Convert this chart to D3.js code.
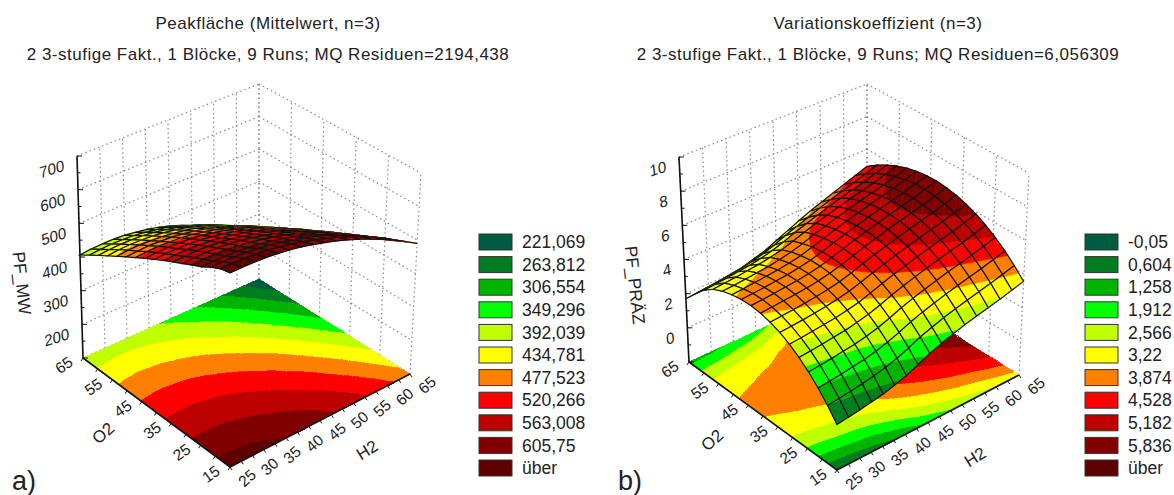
<!DOCTYPE html>
<html>
<head>
<meta charset="utf-8">
<script src="https://cdnjs.cloudflare.com/ajax/libs/d3/7.8.5/d3.min.js"></script>
<style>
  html, body { margin: 0; background: #fff; }
  svg { display: block; font-family: "Liberation Sans", Arial, sans-serif; fill: #222; }
</style>
</head>
<body>
<svg width="1174" height="495"></svg>
<script>
// grid positions of the fitted surface
const gridH2 = [25, 27.5, 30, 32.5, 35, 37.5, 40, 42.5, 45, 47.5, 50, 52.5, 55, 57.5, 60, 62.5, 65];
const gridO2 = [15, 18.125, 21.25, 24.375, 27.5, 30.625, 33.75, 36.875, 40, 43.125, 46.25, 49.375, 52.5, 55.625, 58.75, 61.875, 65];

const h2Ticks = [25, 30, 35, 40, 45, 50, 55, 60, 65];
const o2Ticks = [15, 25, 35, 45, 55, 65];
const peakTicks = [100, 200, 300, 400, 500, 600, 700];
const peakTickLabels = ["", "200", "300", "400", "500", "600", "700"];
const vkTicks = [-2, 0, 2, 4, 6, 8, 10];
const vkTickLabels = ["", "0", "2", "4", "6", "8", "10"];

const bandColors = ["#005c40", "#007d20", "#00b400", "#00ff00", "#bfff00", "#ffff00", "#ff8000", "#ff0000", "#bd0000", "#800000", "#5f0000"];

// legend values are the lower limit of each colour, "über" starts one step past the last
const peakLevels = [221.069, 263.812, 306.554, 349.296, 392.039, 434.781, 477.523, 520.266, 563.008, 605.75, 648.49];
const peakLegend = ["221,069", "263,812", "306,554", "349,296", "392,039", "434,781", "477,523", "520,266", "563,008", "605,75", "über"];
const vkLevels = [-0.05, 0.604, 1.258, 1.912, 2.566, 3.22, 3.874, 4.528, 5.182, 5.836, 6.49];
const vkLegend = ["-0,05", "0,604", "1,258", "1,912", "2,566", "3,22", "3,874", "4,528", "5,182", "5,836", "über"];

// rows run along O2 (15 -> 65), columns along H2 (25 -> 65)
const peakArea = [
  [660, 660, 659, 657, 653, 648, 641, 632, 622, 611, 598, 584, 568, 551, 532, 512, 490],
  [653, 653, 652, 649, 645, 639, 632, 623, 613, 601, 588, 573, 557, 540, 521, 499, 477],
  [639, 640, 638, 636, 632, 627, 619, 610, 601, 589, 576, 561, 544, 527, 507, 486, 463],
  [621, 622, 622, 620, 616, 611, 604, 596, 586, 574, 561, 547, 530, 513, 493, 472, 449],
  [608, 609, 609, 607, 603, 598, 591, 583, 573, 561, 548, 534, 517, 499, 479, 458, 435],
  [593, 595, 595, 593, 590, 585, 578, 569, 559, 548, 534, 520, 503, 485, 465, 443, 420],
  [579, 580, 581, 579, 576, 571, 564, 555, 545, 534, 520, 506, 488, 470, 450, 428, 405],
  [564, 565, 566, 564, 561, 556, 549, 541, 531, 519, 506, 491, 474, 455, 435, 413, 389],
  [548, 550, 550, 549, 546, 541, 534, 526, 516, 504, 491, 476, 458, 440, 419, 397, 372],
  [532, 534, 535, 533, 531, 526, 519, 511, 500, 489, 475, 460, 442, 424, 403, 380, 355],
  [515, 518, 519, 517, 515, 510, 503, 495, 485, 473, 459, 444, 426, 407, 386, 363, 338],
  [498, 500, 502, 500, 498, 493, 487, 479, 468, 456, 443, 428, 409, 390, 369, 346, 320],
  [480, 484, 485, 483, 481, 476, 470, 462, 451, 439, 426, 411, 392, 373, 351, 328, 302],
  [462, 466, 467, 466, 464, 459, 453, 445, 434, 422, 408, 393, 374, 355, 333, 309, 283],
  [444, 447, 449, 448, 446, 441, 435, 427, 416, 404, 391, 375, 356, 337, 315, 291, 265],
  [425, 428, 430, 429, 427, 422, 416, 409, 398, 385, 372, 356, 337, 317, 295, 271, 244],
  [406, 410, 411, 411, 409, 404, 398, 390, 380, 367, 353, 337, 318, 298, 276, 251, 225],
];

const varCoeff = [
  [0.55, 0.64, 0.73, 0.85, 0.97, 1.15, 1.37, 1.66, 1.99, 2.24, 2.46, 2.66, 2.84, 3.0, 3.17, 3.37, 3.56],
  [1.25, 1.32, 1.41, 1.52, 1.63, 1.79, 2.0, 2.27, 2.58, 2.82, 3.04, 3.24, 3.42, 3.59, 3.76, 3.96, 4.16],
  [1.86, 1.93, 2.01, 2.11, 2.21, 2.36, 2.56, 2.81, 3.1, 3.34, 3.55, 3.75, 3.94, 4.11, 4.28, 4.49, 4.69],
  [2.39, 2.46, 2.54, 2.63, 2.72, 2.86, 3.04, 3.28, 3.56, 3.79, 4.0, 4.2, 4.39, 4.56, 4.74, 4.95, 5.15],
  [2.85, 2.91, 2.98, 3.07, 3.15, 3.29, 3.45, 3.68, 3.94, 4.17, 4.38, 4.58, 4.77, 4.95, 5.12, 5.34, 5.54],
  [3.23, 3.28, 3.35, 3.43, 3.51, 3.64, 3.79, 4.01, 4.26, 4.49, 4.69, 4.89, 5.09, 5.27, 5.44, 5.66, 5.87],
  [3.53, 3.58, 3.64, 3.72, 3.8, 3.92, 4.07, 4.28, 4.52, 4.74, 4.95, 5.15, 5.34, 5.52, 5.7, 5.92, 6.12],
  [3.74, 3.8, 3.86, 3.93, 4.01, 4.12, 4.26, 4.47, 4.71, 4.93, 5.13, 5.33, 5.53, 5.71, 5.89, 6.1, 6.31],
  [3.89, 3.94, 4.0, 4.07, 4.14, 4.25, 4.39, 4.59, 4.82, 5.05, 5.25, 5.45, 5.65, 5.83, 6.0, 6.22, 6.43],
  [3.95, 4.0, 4.06, 4.13, 4.2, 4.31, 4.45, 4.65, 4.88, 5.1, 5.3, 5.5, 5.7, 5.88, 6.06, 6.28, 6.49],
  [3.93, 3.98, 4.04, 4.11, 4.18, 4.29, 4.43, 4.63, 4.86, 5.08, 5.28, 5.48, 5.68, 5.86, 6.04, 6.26, 6.47],
  [3.83, 3.88, 3.95, 4.02, 4.09, 4.2, 4.34, 4.55, 4.78, 5.0, 5.2, 5.4, 5.6, 5.78, 5.96, 6.18, 6.39],
  [3.66, 3.71, 3.77, 3.85, 3.92, 4.04, 4.19, 4.39, 4.63, 4.85, 5.06, 5.26, 5.45, 5.63, 5.81, 6.03, 6.24],
  [3.4, 3.46, 3.52, 3.6, 3.68, 3.8, 3.95, 4.17, 4.41, 4.64, 4.84, 5.04, 5.24, 5.42, 5.59, 5.81, 6.02],
  [2.96, 3.02, 3.09, 3.17, 3.25, 3.37, 3.53, 3.76, 4.02, 4.26, 4.48, 4.7, 4.92, 5.11, 5.29, 5.52, 5.73],
  [2.36, 2.42, 2.49, 2.58, 2.67, 2.8, 2.97, 3.2, 3.48, 3.73, 3.98, 4.24, 4.47, 4.69, 4.9, 5.14, 5.38],
  [1.7, 1.75, 1.8, 1.9, 2.0, 2.1, 2.3, 2.5, 2.8, 3.1, 3.4, 3.7, 3.95, 4.2, 4.45, 4.7, 4.96],
];

const svg = d3.select("svg");
const pathLine = d3.line();

const x = d3.scaleLinear().domain([25, 65]).range([0, 1]);
const y = d3.scaleLinear().domain([15, 65]).range([0, 1]);

function lerp(a, b, t) {
  return [a[0] + (b[0] - a[0]) * t, a[1] + (b[1] - a[1]) * t];
}

// box corners on screen: f(ront), l(eft), r(ight), b(ack), lower and upper
function makeProjection(box) {
  const plane = (f, r, l, b, u, v) => lerp(lerp(f, r, u), lerp(l, b, u), v);
  return (u, v, w) =>
    lerp(
      plane(box.f0, box.r0, box.l0, box.b0, u, v),
      plane(box.f1, box.r1, box.l1, box.b1, u, v),
      w
    );
}

// keep the part of a polygon where value is on the wanted side of limit
function clipPolygon(poly, limit, keepAbove) {
  const inside = (p) => (keepAbove ? p.val >= limit : p.val <= limit);
  const out = [];
  poly.forEach((p, i) => {
    const q = poly[(i + 1) % poly.length];
    if (inside(p)) out.push(p);
    if (inside(p) !== inside(q)) {
      const t = (limit - p.val) / (q.val - p.val);
      out.push({
        u: p.u + (q.u - p.u) * t,
        v: p.v + (q.v - p.v) * t,
        val: limit,
      });
    }
  });
  return out;
}

function bandPieces(tri, levels) {
  const pieces = [];
  for (let k = 0; k < bandColors.length; k++) {
    let poly = tri;
    if (k > 0) poly = clipPolygon(poly, levels[k], true);
    if (poly.length && k < bandColors.length - 1) poly = clipPolygon(poly, levels[k + 1], false);
    if (poly.length >= 3) pieces.push({ poly: poly, color: bandColors[k] });
  }
  return pieces;
}

function drawPanel(cfg) {
  const g = svg.append("g");
  const project = makeProjection(cfg.box);
  const z = d3.scaleLinear().domain(d3.extent(cfg.zTicks)).range([0, 1]);

  const cellTris = (i, j) => {
    const corner = (a, b) => ({ u: x(gridH2[a]), v: y(gridO2[b]), val: cfg.values[b][a] });
    const c00 = corner(i, j);
    const c10 = corner(i + 1, j);
    const c01 = corner(i, j + 1);
    const c11 = corner(i + 1, j + 1);
    return [[c00, c10, c11], [c00, c11, c01]];
  };

  // walls, dotted
  const dotted = g.append("g")
    .attr("fill", "none")
    .attr("stroke", "#8a8a8a")
    .attr("stroke-width", 1.2)
    .attr("stroke-dasharray", "1.5,3");
  const wallLine = (a, b) => dotted.append("path").attr("d", pathLine([a, b]));
  h2Ticks.forEach((t) => wallLine(project(x(t), 1, 0), project(x(t), 1, 1)));
  o2Ticks.forEach((t) => wallLine(project(1, y(t), 0), project(1, y(t), 1)));
  cfg.zTicks.forEach((t) => {
    wallLine(project(0, 1, z(t)), project(1, 1, z(t)));
    wallLine(project(1, 1, z(t)), project(1, 0, z(t)));
  });

  // contour bands on the floor
  const floor = g.append("g").attr("shape-rendering", "crispEdges");
  d3.range(gridO2.length - 1).forEach((j) => {
    d3.range(gridH2.length - 1).forEach((i) => {
      cellTris(i, j).forEach((tri) => {
        bandPieces(tri, cfg.levels).forEach((piece) => {
          floor.append("path")
            .attr("d", pathLine(piece.poly.map((p) => project(p.u, p.v, 0))) + "Z")
            .attr("fill", piece.color)
            .attr("stroke", piece.color)
            .attr("stroke-width", 0.8);
        });
      });
    });
  });

  // surface, back cells first so the front ones cover them
  const surface = g.append("g");
  const onSurface = (p) => project(p.u, p.v, z(p.val));
  d3.range(gridO2.length - 2, -1, -1).forEach((j) => {
    d3.range(gridH2.length - 2, -1, -1).forEach((i) => {
      const tris = cellTris(i, j);
      tris.forEach((tri) => {
        bandPieces(tri, cfg.levels).forEach((piece) => {
          surface.append("path")
            .attr("d", pathLine(piece.poly.map(onSurface)) + "Z")
            .attr("fill", piece.color)
            .attr("stroke", piece.color)
            .attr("stroke-width", 0.6);
        });
      });
      const quad = [tris[0][0], tris[0][1], tris[0][2], tris[1][2]];
      surface.append("path")
        .attr("d", pathLine(quad.map(onSurface)) + "Z")
        .attr("fill", "none")
        .attr("stroke", "#111")
        .attr("stroke-width", 1.2);
    });
  });

  // solid axes with ticks
  const axes = g.append("g").attr("fill", "none").attr("stroke", "#111");
  axes.append("path")
    .attr("stroke-width", 1.6)
    .attr("d", pathLine([project(0, 1, 1), project(0, 1, 0), project(0, 0, 0), project(1, 0, 0)]));
  const zStep = cfg.zTicks[1] - cfg.zTicks[0];
  cfg.zTicks.forEach((t, k) => {
    const pt = project(0, 1, z(t));
    axes.append("path").attr("d", pathLine([pt, [pt[0] + 5, pt[1]]]));
    if (k < cfg.zTicks.length - 1) {
      const mid = project(0, 1, z(t + zStep / 2));
      axes.append("path").attr("d", pathLine([mid, [mid[0] + 3, mid[1]]]));
    }
  });
  d3.range(15, 66, 5).forEach((t) => {
    const pt = project(0, y(t), 0);
    axes.append("path").attr("d", pathLine([pt, [pt[0] - 2, pt[1] + 3]]));
  });
  d3.range(25, 66, 2.5).forEach((t) => {
    const pt = project(x(t), 0, 0);
    axes.append("path").attr("d", pathLine([pt, [pt[0] + 2, pt[1] + 3]]));
  });

  // tick labels
  const labels = g.append("g").attr("font-size", 15.5);
  const label = (text, pt, dx, dy, transform, anchor) =>
    labels.append("text")
      .attr("transform", `translate(${pt[0] + dx},${pt[1] + dy}) ${transform}`)
      .attr("text-anchor", anchor || "middle")
      .attr("dy", "0.35em")
      .text(text);

  cfg.zTicks.forEach((t, k) => {
    label(cfg.zTickLabels[k], project(0, 1, z(t)), -13, 9, "rotate(-18) skewX(-12)", "end");
  });
  o2Ticks.forEach((t) => label(t, project(0, y(t), 0), -19, 7, "rotate(-35)"));
  h2Ticks.forEach((t) => label(t, project(x(t), 0, 0), 17, 11, "rotate(-42)"));

  label("O2", cfg.o2Title, 0, 0, "rotate(-42)").attr("font-size", 17);
  label("H2", cfg.h2Title, 0, 0, "rotate(-32)").attr("font-size", 17);
  label(cfg.zName, cfg.zTitle, 0, 0, "rotate(84)").attr("font-size", 17.5);
  label(cfg.panelTag, cfg.tagPos, 0, 0, "").attr("font-size", 27).attr("text-anchor", "start");

  // titles
  g.append("text")
    .attr("x", cfg.titleX)
    .attr("y", 29)
    .attr("text-anchor", "middle")
    .attr("font-size", 17)
    .attr("letter-spacing", 0.5)
    .text(cfg.title);
  g.append("text")
    .attr("x", cfg.titleX)
    .attr("y", 60)
    .attr("text-anchor", "middle")
    .attr("font-size", 17)
    .attr("letter-spacing", 0.5)
    .text(cfg.subtitle);

  // legend
  const rowY = d3.scaleBand().domain(d3.range(bandColors.length)).range([234, 234 + 22.6 * 11]);
  const legend = g.append("g").attr("transform", `translate(${cfg.legendX},0)`);
  legend.selectAll("rect")
    .data(bandColors)
    .enter()
    .append("rect")
    .attr("y", (d, i) => rowY(i))
    .attr("width", 33)
    .attr("height", 16)
    .attr("fill", (d) => d)
    .attr("stroke", "#333")
    .attr("stroke-width", 1);
  legend.selectAll("text")
    .data(cfg.legend)
    .enter()
    .append("text")
    .attr("x", 43)
    .attr("y", (d, i) => rowY(i) + 8)
    .attr("dy", "0.35em")
    .attr("font-size", 17.5)
    .text((d) => d);
}

drawPanel({
  title: "Peakfläche (Mittelwert, n=3)",
  subtitle: "2 3-stufige Fakt., 1 Blöcke, 9 Runs; MQ Residuen=2194,438",
  titleX: 268,
  values: peakArea,
  levels: peakLevels,
  legend: peakLegend,
  legendX: 479,
  zTicks: peakTicks,
  zTickLabels: peakTickLabels,
  zName: "PF_MW",
  zTitle: [22, 283],
  o2Title: [103, 433],
  h2Title: [367, 450],
  panelTag: "a)",
  tagPos: [12, 481],
  box: {
    f0: [230, 467], r0: [410, 374], l0: [83, 358], b0: [259, 279],
    f1: [230, 259], r1: [421, 173], l1: [77, 156], b1: [259, 84],
  },
});

drawPanel({
  title: "Variationskoeffizient (n=3)",
  subtitle: "2 3-stufige Fakt., 1 Blöcke, 9 Runs; MQ Residuen=6,056309",
  titleX: 878,
  values: varCoeff,
  levels: vkLevels,
  legend: vkLegend,
  legendX: 1085,
  zTicks: vkTicks,
  zTickLabels: vkTickLabels,
  zName: "PF_PRÄZ",
  zTitle: [635, 285],
  o2Title: [712, 440],
  h2Title: [975, 457],
  panelTag: "b)",
  tagPos: [618, 481],
  box: {
    f0: [837, 470], r0: [1019, 375], l0: [689, 362], b0: [867, 280],
    f1: [837, 256], r1: [1029, 173], l1: [679, 157], b1: [867, 84],
  },
});
</script>
</body>
</html>
